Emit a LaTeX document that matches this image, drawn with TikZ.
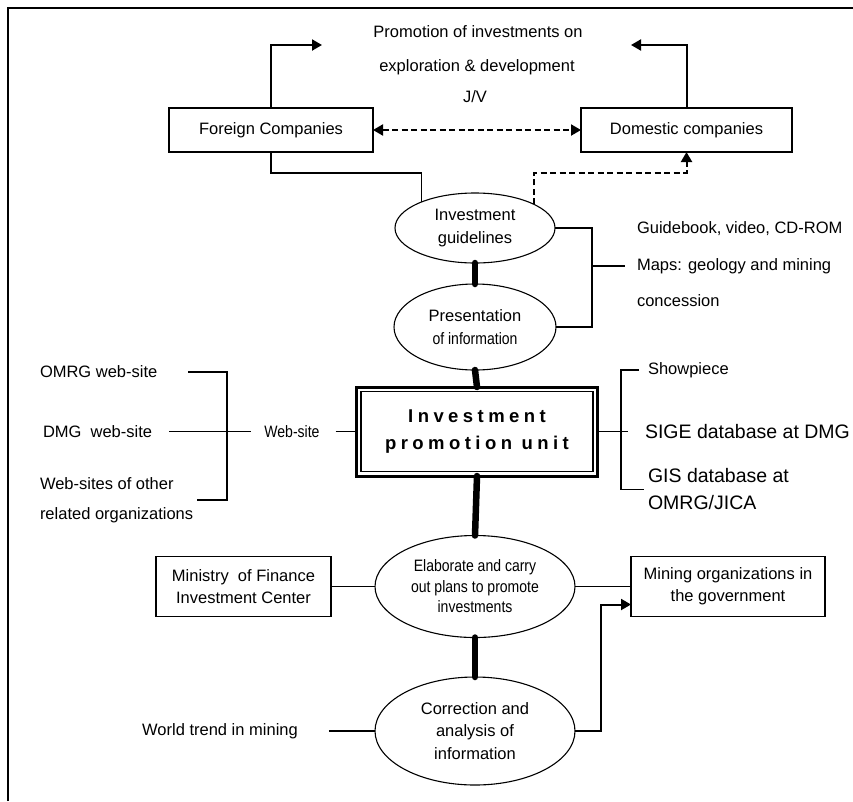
\documentclass[tikz,border=0pt]{standalone}
\usepackage{fontspec}
\setmainfont{Liberation Sans}
\usepackage{graphicx}
\usetikzlibrary{shapes.geometric,arrows.meta}
\newcommand{\narrowtxt}[1]{\scalebox{0.85}[1]{#1}}
\begin{document}
\begin{tikzpicture}[x=1pt,y=-1pt,
  every node/.style={inner sep=0pt, outer sep=0pt, font=\fontsize{16.5}{23}\selectfont, align=center},
  box/.style={draw, line width=1.1pt, minimum height=44pt},
  oval/.style={draw, ellipse, line width=1.1pt},
  lbl/.style={align=left},
  conn/.style={line width=1.1pt},
  link/.style={line width=6.5pt, line cap=round},
  tip/.style={-{Triangle[length=10pt,width=11pt]}},
  arr/.style={line width=2pt, tip},
  dsh/.style={line width=2pt, dash pattern=on 6pt off 3.5pt},
]
\useasboundingbox (0,0) rectangle (853,801);

% frame
\draw[line width=2pt] (8,801) -- (8,8) -- (853,8);

% heading texts
\node (pr1) at (478,32) {Promotion of investments on};
\node (pr2) at (477,67) {exploration \& development};
\node (jv) at (475,97) {J/V};

% companies
\node[box, minimum width=204pt] (fc) at (271,130) {Foreign Companies};
\node[box, minimum width=211pt] (dc) at (686.5,130) {Domestic companies};
\coordinate (tipL) at (322,45);
\coordinate (tipR) at (631,45);
\draw[arr] (fc.north) |- (tipL);
\draw[arr] (dc.north) |- (tipR);
\draw[dsh, {Triangle[length=10pt,width=11pt]}-{Triangle[length=10pt,width=11pt]}] (fc.east) -- (dc.west);

% guidelines and presentation
\node[oval, minimum width=160pt, minimum height=70pt] (ig) at (475,228) {Investment\\guidelines};
\node[oval, minimum width=162pt, minimum height=86pt] (pi) at (475,327) {Presentation\\\narrowtxt{of information}};
\draw[link] (ig.south) -- (pi.north);

\coordinate (bendY) at (0,173);
\draw[conn] (fc.south) -- (fc.south |- bendY) -| (ig.154.5);
\draw[dsh, tip] (ig.22.6) |- (dc.south |- bendY) -- (dc.south);

\node[lbl, anchor=west] (gb) at (637,229) {Guidebook, video, CD-ROM};
\node[lbl, anchor=west] (mp) at (637,266) {Maps: geology and mining};
\node[lbl, anchor=west] (cn) at (637,301) {concession};
\coordinate (brI) at (592,0);
\draw[conn] (ig.east) -| (brI |- pi.east) -- (pi.east);
\draw[conn] (brI |- mp.west) -- ([xshift=-12pt]mp.west);

% investment promotion unit
\node[draw, line width=3pt, minimum width=241pt, minimum height=89pt,
      font=\fontsize{18.5}{27}\selectfont\bfseries\addfontfeature{LetterSpace=24}] (ipu) at (477,431.5) {Investment\\promotion unit};
\draw[line width=1.1pt] ([shift={(4.5,4.5)}]ipu.north west) rectangle ([shift={(-4.5,-4.5)}]ipu.south east);
\draw[link] (pi.south) -- (ipu.north);

% web-sites
\node[lbl, anchor=west] (om) at (40,372) {OMRG web-site};
\node[lbl, anchor=west] (dm) at (43,431.5) {DMG\ \ web-site};
\node[lbl, anchor=west, font=\fontsize{16.5}{30}\selectfont] (ot) at (40,500) {Web-sites of other\\related organizations};
\node (ws) at (292,431.5) {\narrowtxt{Web-site}};
\coordinate (brW) at (227,0);
\draw[conn] ([xshift=31pt]om.east) -| (brW |- ot.east) -- ([xshift=4pt]ot.east);
\draw[conn] ([xshift=17pt]dm.east) -- ([xshift=-13pt]ws.west);
\draw[conn] ([xshift=16pt]ws.east) -- (ipu.west);

% databases
\node[lbl, anchor=west] (sp) at (648,370) {Showpiece};
\node[lbl, anchor=west, font=\fontsize{19.5}{27}\selectfont] (sg) at (645,431.5) {SIGE database at DMG};
\node[lbl, anchor=west, font=\fontsize{19.5}{27}\selectfont] (gi) at (648,489.5) {GIS database at\\OMRG/JICA};
\coordinate (brS) at (621,0);
\draw[conn] ([xshift=-9pt]sp.west) -| (brS |- gi.west) -- ([xshift=-4pt]gi.west);
\draw[conn] (ipu.east) -- ([xshift=-17pt]sg.west);

% plans
\node[oval, minimum width=200pt, minimum height=102pt, font=\fontsize{16.5}{20.5}\selectfont] (ep) at (475,586.5)
  {\narrowtxt{Elaborate and carry}\\\narrowtxt{out plans to promote}\\\narrowtxt{investments}};
\draw[link] (ipu.south) -- (ep.north);
\node[box, minimum width=175pt, minimum height=60pt, font=\fontsize{16.5}{22}\selectfont] (mf) at (243.5,586.5) {Ministry\ \ of Finance\\Investment Center};
\node[box, minimum width=194pt, minimum height=60pt, font=\fontsize{16.5}{22}\selectfont] (mo) at (728,586.5) {Mining organizations in\\the government};
\draw[conn] (mf.east) -- (ep.west);
\draw[conn] (ep.east) -- (mo.west);

% analysis
\node[oval, minimum width=200pt, minimum height=108pt, font=\fontsize{16.5}{22.5}\selectfont] (co) at (475,731) {Correction and\\analysis of\\information};
\draw[link] (ep.south) -- (co.north);
\node (wt) at (220,731) {World trend in mining};
\draw[conn] ([xshift=31pt]wt.east) -- (co.west);
\draw[arr] (co.east) -| ([xshift=-30pt,yshift=-18pt]mo.west) -- ([yshift=-18pt]mo.west);
\end{tikzpicture}
\end{document}
